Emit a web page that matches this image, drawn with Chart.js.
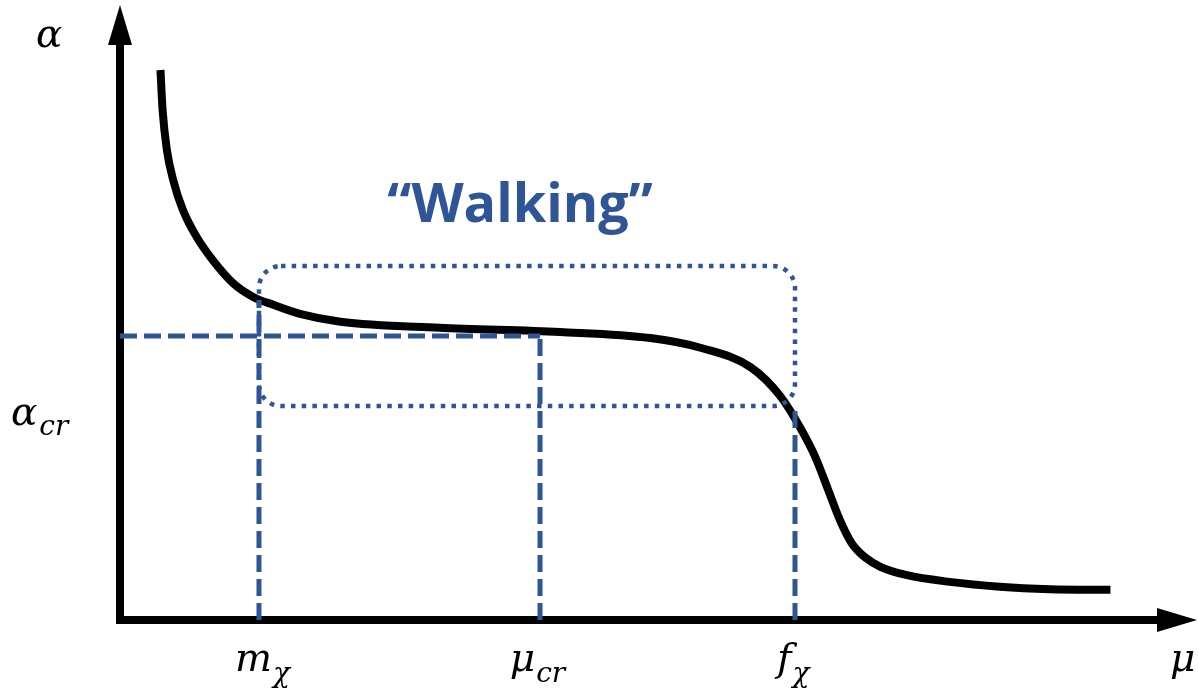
<!DOCTYPE html>
<html>
<head>
<meta charset="utf-8">
<script src="https://cdn.jsdelivr.net/npm/chart.js@4"></script>
<style>
  body { margin: 0; background: #fff; }
</style>
</head>
<body>
<canvas id="walk" width="1198" height="696"></canvas>
<script>
// running coupling curve
const curveMu = [0.38, 0.40, 0.44, 0.50, 0.59, 0.72, 0.87, 1.06, 1.25, 1.44, 1.69, 2.07, 3.00, 4.13, 4.98, 5.45, 5.92, 6.20, 6.39, 6.53, 6.65, 6.76, 6.87, 7.00, 7.14, 7.39, 7.79, 8.26, 8.73, 9.30];
const curveAlpha = [9.09, 8.43, 7.77, 7.27, 6.78, 6.33, 5.95, 5.57, 5.34, 5.21, 5.06, 4.93, 4.83, 4.76, 4.66, 4.50, 4.18, 3.70, 3.17, 2.69, 2.15, 1.65, 1.27, 1.03, 0.88, 0.74, 0.63, 0.55, 0.51, 0.50];

// dashed guide lines: from (x0,y0) to (x1,y1)
const guideX0 = [0, 1.305, 3.944, 6.338];
const guideY0 = [4.694, 0, 0, 0];
const guideX1 = [3.944, 1.305, 3.944, 6.338];
const guideY1 = [4.694, 5.29, 4.694, 3.55];

// dotted "walking" box: muLo, alphaLo, muHi, alphaHi
const walkBox = [1.305, 3.537, 6.338, 5.851];
const walkLabelAt = [3.756, 6.58];

// axis labels
const xMarkNames = ['m', 'μ', 'f', 'μ'];
const xMarkSubs = ['χ', 'cr', 'χ', ''];
const xMarkAt = [1.08, 3.66, 6.17, 9.86];
const yMarkNames = ['α', 'α'];
const yMarkSubs = ['', 'cr'];
const yMarkAt = [9.47, 3.22];

const blue = '#2F5597';
const mathFont = 'italic 39px "DejaVu Serif"';
const subFont = 'italic 28px "DejaVu Serif"';

const curve = curveMu.map((m, i) => ({ x: m, y: curveAlpha[i] }));

const guides = guideX0.map((x0, i) => ({
    data: [{ x: x0, y: guideY0[i] }, { x: guideX1[i], y: guideY1[i] }],
    borderColor: blue,
    borderWidth: 5,
    borderDash: [17, 7],
    pointRadius: 0,
    order: 1
}));

// black axes with arrow heads, under the datasets
const axesPlugin = {
    id: 'axes',
    beforeDatasetsDraw(chart) {
        const c = chart.ctx, a = chart.chartArea;
        const x0 = chart.scales.x.getPixelForValue(0);
        const y0 = chart.scales.y.getPixelForValue(0);
        c.save();
        c.fillStyle = '#000';
        c.fillRect(x0 - 4, a.top + 29, 8, y0 - a.top - 25);
        c.beginPath();
        c.moveTo(x0, a.top - 10);
        c.lineTo(x0 - 12, a.top + 30);
        c.lineTo(x0 + 12, a.top + 30);
        c.closePath();
        c.fill();
        c.fillRect(x0 - 4, y0 - 4, a.right - 28 - x0 + 4, 8);
        c.beginPath();
        c.moveTo(a.right + 12, y0);
        c.lineTo(a.right - 28, y0 - 12);
        c.lineTo(a.right - 28, y0 + 12);
        c.closePath();
        c.fill();
        c.restore();
    }
};

function roundRect(c, x, y, w, h, r) {
    c.beginPath();
    c.moveTo(x + r, y);
    c.lineTo(x + w - r, y);
    c.arcTo(x + w, y, x + w, y + r, r);
    c.lineTo(x + w, y + h - r);
    c.arcTo(x + w, y + h, x + w - r, y + h, r);
    c.lineTo(x + r, y + h);
    c.arcTo(x, y + h, x, y + h - r, r);
    c.lineTo(x, y + r);
    c.arcTo(x, y, x + r, y, r);
    c.closePath();
}

const overlayPlugin = {
    id: 'overlay',
    afterDatasetsDraw(chart) {
        const c = chart.ctx, a = chart.chartArea;
        const sx = chart.scales.x, sy = chart.scales.y;
        c.save();
        // dotted box
        const bx = sx.getPixelForValue(walkBox[0]);
        const by = sy.getPixelForValue(walkBox[3]);
        const bw = sx.getPixelForValue(walkBox[2]) - bx;
        const bh = sy.getPixelForValue(walkBox[1]) - by;
        c.strokeStyle = blue;
        c.lineWidth = 4.5;
        c.setLineDash([4.5, 6.2]);
        roundRect(c, bx, by, bw, bh, 22);
        c.stroke();
        c.setLineDash([]);

        // "Walking"
        c.fillStyle = blue;
        c.font = 'bold 54px "Open Sans"';
        c.textAlign = 'center';
        c.textBaseline = 'alphabetic';
        c.fillText('\u201CWalking\u201D', sx.getPixelForValue(walkLabelAt[0]), sy.getPixelForValue(walkLabelAt[1]));

        // axis labels
        c.fillStyle = '#000';
        c.textAlign = 'left';
        xMarkAt.forEach((v, i) => {
            const px = sx.getPixelForValue(v);
            const base = a.bottom + 51;
            c.font = mathFont;
            c.fillText(xMarkNames[i], px, base);
            const w = c.measureText(xMarkNames[i]).width;
            c.font = subFont;
            c.fillText(xMarkSubs[i], px + w + 1, base + 11);
        });
        yMarkAt.forEach((v, i) => {
            const py = sy.getPixelForValue(v);
            const px = i === 0 ? 36 : 11;
            c.font = mathFont;
            c.fillText(yMarkNames[i], px, py);
            const w = c.measureText(yMarkNames[i]).width;
            c.font = subFont;
            c.fillText(yMarkSubs[i], px + w + 2, py + 10);
        });
        c.restore();
    }
};

new Chart(document.getElementById('walk'), {
    type: 'line',
    data: {
        datasets: [
            {
                data: curve,
                borderColor: '#000',
                borderWidth: 8,
                pointRadius: 0,
                cubicInterpolationMode: 'monotone',
                borderCapStyle: 'butt',
                order: 2
            },
            ...guides
        ]
    },
    options: {
        responsive: false,
        animation: false,
        layout: { padding: { left: 120, right: 13, top: 15, bottom: 76 } },
        plugins: { legend: { display: false }, tooltip: { enabled: false } },
        scales: {
            x: { type: 'linear', min: 0, max: 10, display: false },
            y: { type: 'linear', min: 0, max: 10, display: false }
        }
    },
    plugins: [axesPlugin, overlayPlugin]
});
</script>
</body>
</html>
